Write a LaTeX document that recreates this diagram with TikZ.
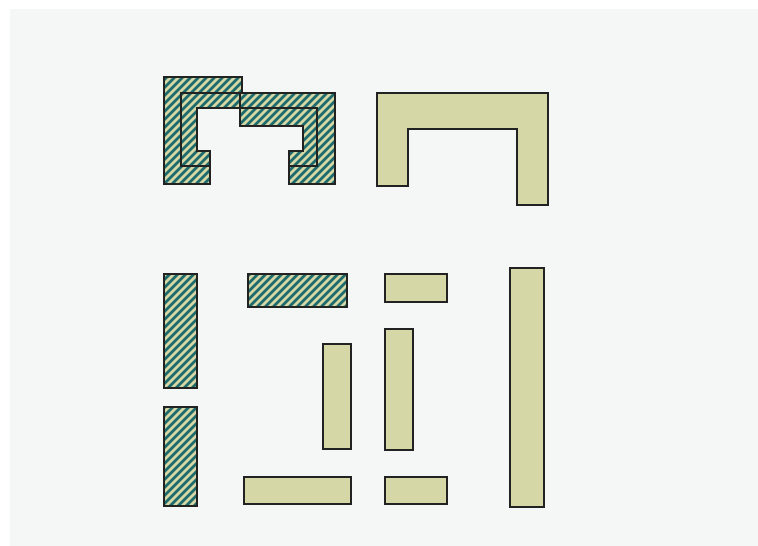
\documentclass[tikz,border=0pt]{standalone}
\definecolor{bgc}{HTML}{F5F7F7}
\definecolor{olivec}{HTML}{D5D8A6}
\definecolor{stripec}{HTML}{1C6A6B}
\definecolor{edgec}{HTML}{222222}
\tikzset{
  outline/.style={draw=edgec, line width=1.1pt, line join=miter},
  plainpiece/.style={fill=olivec, outline},
  stripe/.style={draw=stripec, line width=2.6pt}
}
\newcommand{\hatchedpiece}[1]{%
  \begin{scope}
    \clip #1;
    \fill[olivec] #1;
    \foreach \c in {-624,-616,...,900} \draw[stripe] (\c,620) -- ++(620,-620);
  \end{scope}
  \path[outline] #1;}
\begin{document}
\begin{tikzpicture}[x=1pt,y=-1pt]
\useasboundingbox (0,0) rectangle (758,546);
\fill[white] (0,0) rectangle (758,546);
\fill[bgc] (10,9) rectangle (758,546);

% top-left hatched figure
\hatchedpiece{(164,77) -- (242,77) -- (242,93) -- (335,93) -- (335,184) -- (289,184) -- (289,151) -- (303,151) -- (303,126) -- (240,126) -- (240,108) -- (197,108) -- (197,151) -- (210,151) -- (210,184) -- (164,184) -- cycle}
\draw[outline] (210,166) -- (181,166) -- (181,93) -- (242,93);
\draw[outline] (240,93) -- (240,108) -- (317,108) -- (317,166) -- (289,166);

% top-right plain figure
\path[plainpiece] (377,93) -- (548,93) -- (548,205) -- (517,205) -- (517,129) -- (408,129) -- (408,186) -- (377,186) -- cycle;

% hatched pieces
\hatchedpiece{(164,274) rectangle (197,388)}
\hatchedpiece{(164,407) rectangle (197,506)}
\hatchedpiece{(248,274) rectangle (347,307)}

% plain pieces
\path[plainpiece] (323,344) rectangle (351,449);
\path[plainpiece] (244,477) rectangle (351,504);
\path[plainpiece] (385,274) rectangle (447,302);
\path[plainpiece] (385,329) rectangle (413,450);
\path[plainpiece] (385,477) rectangle (447,504);
\path[plainpiece] (510,268) rectangle (544,507);
\end{tikzpicture}
\end{document}
